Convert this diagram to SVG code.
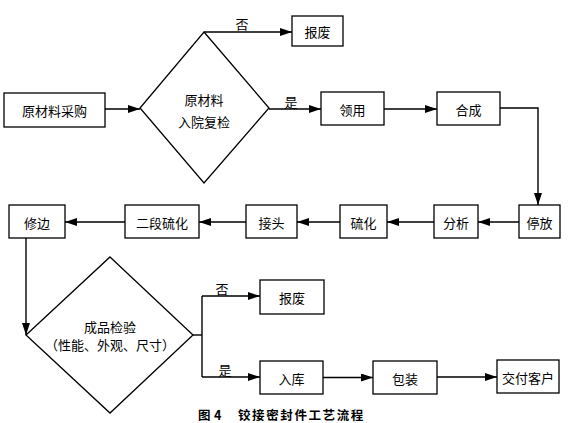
<svg xmlns="http://www.w3.org/2000/svg" width="569" height="423" viewBox="0 0 569 423">
<style>
.box{fill:#fff;stroke:#000;stroke-width:1.3}
.t{font-family:"Noto Sans CJK SC","Liberation Sans",sans-serif;font-size:13px;fill:#000;text-anchor:middle;dominant-baseline:central}
.ln{fill:none;stroke:#000;stroke-width:1.4}
.cap{font-family:"Noto Sans CJK SC","Liberation Sans",sans-serif;font-size:12.5px;font-weight:bold;fill:#000;dominant-baseline:central}
</style>
<defs>
<marker id="ah" markerUnits="userSpaceOnUse" markerWidth="13" markerHeight="8" refX="12" refY="4" orient="auto">
<path d="M0,0 L12,4 L0,8 z" fill="#000"/>
</marker>
</defs>
<rect width="569" height="423" fill="#fff"/>
<g id="connectors">
<path class="ln" d="M105,109 H140" marker-end="url(#ah)"/>
<path class="ln" d="M204,32 H292" marker-end="url(#ah)"/>
<path class="ln" d="M269,109 H321" marker-end="url(#ah)"/>
<path class="ln" d="M384,109 H437" marker-end="url(#ah)"/>
<path class="ln" d="M500,108 H538 V205" marker-end="url(#ah)"/>
<path class="ln" d="M519,222 H478" marker-end="url(#ah)"/>
<path class="ln" d="M434,222 H387" marker-end="url(#ah)"/>
<path class="ln" d="M340,222 H297" marker-end="url(#ah)"/>
<path class="ln" d="M246,222 H199" marker-end="url(#ah)"/>
<path class="ln" d="M125,222 H65" marker-end="url(#ah)"/>
<path class="ln" d="M26,238 V335" marker-end="url(#ah)"/>
<path class="ln" d="M193,335 H202"/>
<path class="ln" d="M202,296 V377"/>
<path class="ln" d="M202,296 H260" marker-end="url(#ah)"/>
<path class="ln" d="M202,377 H260" marker-end="url(#ah)"/>
<path class="ln" d="M323,377.5 H373" marker-end="url(#ah)"/>
<path class="ln" d="M437,377 H497" marker-end="url(#ah)"/>
<text class="t" x="242" y="23">否</text>
<text class="t" x="291" y="101">是</text>
<text class="t" x="222" y="288">否</text>
<text class="t" x="225" y="369">是</text>
</g>
<g id="n-purchase"><rect class="box" x="4" y="93" width="101" height="34"/><text class="t" x="54.5" y="110">原材料采购</text></g>
<g id="n-check1"><path class="box" d="M204,32 L269,108 L204,183 L140,108 Z"/><text class="t" x="204" y="99">原材料</text><text class="t" x="204" y="121">入院复检</text></g>
<g id="n-scrap1"><rect class="box" x="292" y="16" width="51" height="30"/><text class="t" x="317.5" y="31.5">报废</text></g>
<g id="n-use"><rect class="box" x="321" y="92" width="63" height="33"/><text class="t" x="352.5" y="109">领用</text></g>
<g id="n-synth"><rect class="box" x="437" y="92" width="63" height="33"/><text class="t" x="468.5" y="109">合成</text></g>
<g id="n-park"><rect class="box" x="519" y="205" width="41" height="33"/><text class="t" x="539.5" y="222">停放</text></g>
<g id="n-analysis"><rect class="box" x="434" y="205" width="44" height="33"/><text class="t" x="456" y="222">分析</text></g>
<g id="n-cure"><rect class="box" x="340" y="205" width="47" height="33"/><text class="t" x="363.5" y="222">硫化</text></g>
<g id="n-joint"><rect class="box" x="246" y="205" width="51" height="33"/><text class="t" x="271.5" y="222">接头</text></g>
<g id="n-cure2"><rect class="box" x="125" y="205" width="74" height="33"/><text class="t" x="162" y="222">二段硫化</text></g>
<g id="n-trim"><rect class="box" x="9" y="205" width="56" height="33"/><text class="t" x="37" y="222">修边</text></g>
<g id="n-check2"><path class="box" d="M110,257 L193,335 L110,413 L26,335 Z"/><text class="t" x="110" y="326">成品检验</text><text class="t" x="110" y="344">（性能、外观、尺寸）</text></g>
<g id="n-scrap2"><rect class="box" x="260" y="280" width="64" height="34"/><text class="t" x="292" y="297">报废</text></g>
<g id="n-store"><rect class="box" x="260" y="361" width="63" height="33"/><text class="t" x="291.5" y="378">入库</text></g>
<g id="n-pack"><rect class="box" x="373" y="361" width="64" height="33"/><text class="t" x="405" y="378">包装</text></g>
<g id="n-deliver"><rect class="box" x="497" y="360" width="62" height="33"/><text class="t" x="528" y="377">交付客户</text></g>
<text class="cap" x="198" y="414">图 <tspan x="214">4</tspan></text>
<text class="cap" x="238" y="414" letter-spacing="1.6">铰接密封件工艺流程</text>
</svg>
